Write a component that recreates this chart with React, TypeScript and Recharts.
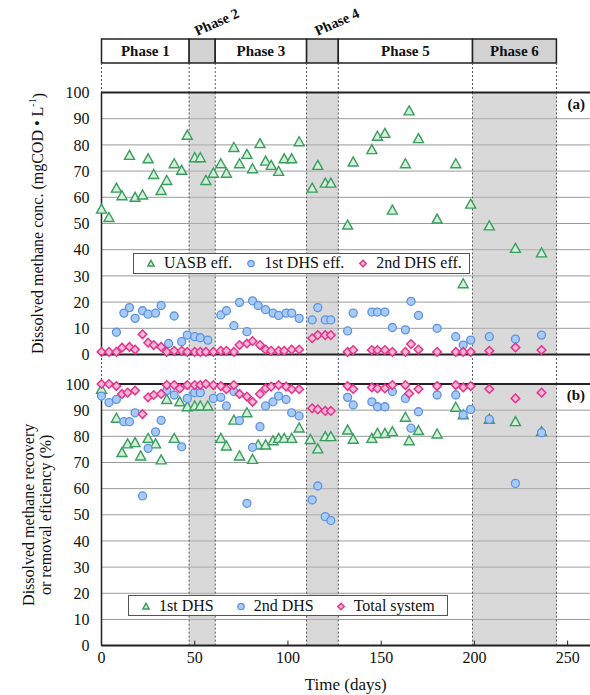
import React from "react";
import {
  ScatterChart, Scatter, XAxis, YAxis, CartesianGrid, ReferenceArea, ReferenceLine, Legend,
} from "recharts";

// phase boundaries (days) and names
const phaseBounds = [0, 47, 61, 110, 127, 199, 244];
const phaseNames = ["Phase 1", "Phase 2", "Phase 3", "Phase 4", "Phase 5", "Phase 6"];

// (a) dissolved methane concentration, [day, mgCOD/L]
const uasbEff: [number, number][] = [
  [0, 55.5], [4, 52.3], [8, 63.5], [11, 60.6], [15, 76], [18, 60], [22, 60.9], [25, 74.7], [28, 68.7],
  [32, 62.6], [35, 66.4], [39, 72.8], [43, 70.3], [46, 83.7], [50, 75.1], [53, 75.1], [56, 66.4],
  [60, 69.2], [64, 72.8], [67, 69.2], [71, 79], [74, 72.8], [78, 76.4], [81, 70.9], [85, 80.5],
  [88, 73.8], [91, 72.2], [95, 69.9], [98, 74.7], [102, 74.7], [106, 81.2], [113, 63.5], [116, 72.2],
  [120, 65.4], [123, 65.4], [132, 49.4], [135, 73.5], [145, 78.2], [148, 83.3], [152, 84.4], [156, 55.1],
  [163, 72.8], [165, 93], [170, 82.4], [180, 51.7], [190, 72.8], [194, 27], [198, 57.4], [208, 49.1],
  [222, 40.5], [236, 38.8],
];
const dhs1Eff: [number, number][] = [
  [8, 8.5], [12, 15.8], [15, 17.9], [18, 13.8], [22, 16.7], [25, 15.4], [29, 15.8], [32, 18.7], [36, 4.2],
  [39, 14.7], [43, 4.9], [46, 7.4], [50, 6.8], [53, 6.4], [57, 5.5], [64, 15.1], [67, 16.7], [71, 11],
  [74, 19.9], [78, 8.7], [81, 20.5], [84, 18.7], [88, 17.1], [92, 15.8], [95, 14.9], [99, 15.8],
  [102, 15.8], [106, 13.8], [113, 13.2], [116, 17.9], [120, 13.2], [123, 13.2], [132, 9], [135, 15.8],
  [145, 16.2], [148, 16.2], [152, 16.2], [156, 10.3], [163, 9.4], [166, 20.3], [170, 14.9], [180, 10],
  [190, 6.8], [194, 3.6], [198, 5.5], [208, 6.8], [222, 5.9], [236, 7.4],
];
const dhs2Eff: [number, number][] = [
  [0, 1], [4, 1], [8, 1], [11, 2.6], [15, 2.9], [18, 1.9], [22, 7.7], [25, 4.5], [28, 3.6], [32, 2.9],
  [35, 1], [39, 1.4], [43, 1.4], [46, 1], [50, 1], [53, 1], [56, 1], [60, 1], [64, 1.4], [67, 1.4],
  [71, 1], [74, 3.6], [78, 4.2], [81, 5.1], [85, 3.6], [88, 1.9], [91, 1.4], [95, 1.4], [98, 1.4],
  [102, 1.9], [106, 1.9], [113, 6.2], [116, 7.4], [120, 7.4], [123, 7.4], [132, 1], [135, 1.7],
  [145, 1.7], [148, 1.7], [152, 1.7], [156, 1], [163, 1], [166, 4], [170, 1.9], [180, 1], [190, 1],
  [194, 1], [198, 1], [208, 1.4], [222, 2.7], [236, 1.7],
];

// (b) recovery / removal efficiency, [day, %]
const dhs1Rec: [number, number][] = [
  [0, 98], [8, 86.9], [11, 73.8], [14, 77.1], [18, 77.6], [21, 72.5], [25, 79.2], [29, 77.1], [32, 71],
  [35, 94.1], [39, 79.2], [42, 93.2], [46, 91.3], [50, 91.6], [53, 91.6], [57, 91.6], [64, 79.2],
  [67, 76.3], [71, 86.2], [74, 72.5], [78, 89], [81, 71.2], [84, 76.7], [88, 76.7], [92, 78.3],
  [95, 79.2], [98, 79.2], [102, 79.2], [106, 83.2], [112, 78.8], [116, 75.2], [120, 79.9], [123, 79.9],
  [132, 82.4], [135, 78.9], [145, 79.2], [148, 81.1], [152, 81.1], [156, 81.8], [163, 87.3], [165, 78.3],
  [170, 82.2], [180, 80.9], [190, 91.1], [194, 88.2], [208, 86.5], [222, 85.6], [236, 81.8],
];
const dhs2Rec: [number, number][] = [
  [0, 95.4], [4, 92.9], [8, 94.1], [12, 85.6], [15, 85.6], [18, 89], [22, 57.2], [25, 75.4], [29, 81.7],
  [32, 86.1], [35, 97.5], [39, 95.8], [43, 76], [46, 94.5], [50, 96.7], [53, 96.7], [60, 94.5],
  [64, 94.9], [67, 91.6], [71, 97.1], [74, 86], [78, 54.4], [81, 75.8], [85, 83.7], [88, 91.6],
  [92, 93.2], [95, 95.4], [99, 94.1], [102, 89], [106, 87.8], [113, 55.7], [116, 61], [120, 49.3],
  [123, 47.8], [132, 94.9], [135, 92], [145, 93.2], [148, 91.3], [152, 91.3], [156, 97.1], [163, 94.5],
  [166, 83.1], [170, 89.4], [180, 95.8], [190, 95.8], [194, 88.2], [198, 90.3], [208, 86.5], [222, 62],
  [236, 81.4],
];
const totalRec: [number, number][] = [
  [0, 100], [4, 100], [8, 99.2], [11, 96.2], [14, 96.7], [18, 97.5], [22, 88.5], [25, 94.9], [28, 95.8],
  [32, 96.2], [35, 99.6], [39, 99.6], [42, 98.3], [46, 99.6], [50, 99.6], [53, 99.6], [56, 100],
  [60, 99.6], [64, 99.2], [67, 98], [71, 99.6], [74, 96.2], [78, 95.2], [81, 93.2], [85, 96.2],
  [88, 98.3], [91, 99], [95, 99.6], [99, 99], [102, 98], [106, 98], [113, 90.7], [116, 90.3],
  [120, 89.7], [123, 89.7], [132, 99.2], [135, 98.1], [145, 98.7], [148, 98.3], [152, 98.3], [156, 99.6],
  [163, 99.6], [165, 96.4], [170, 98.1], [180, 99.2], [190, 99.6], [194, 98.7], [198, 99.2], [208, 98.1],
  [222, 94.5], [236, 96.7],
];

const xTicks = [0, 50, 100, 150, 200, 250];
const yTicks = [0, 10, 20, 30, 40, 50, 60, 70, 80, 90, 100];

const X_MAX = 262;
const FONT = '"Liberation Serif", "Times New Roman", serif';
const GREEN = { stroke: "#3a9d5d", fill: "#d3efdb" };
const BLUE = { stroke: "#5b93e4", fill: "#a8caf4" };
const PINK = { stroke: "#e3358c", fill: "#f6b6d6" };
const SHADE = "#b9b9b9";

const toPts = (arr: [number, number][]) => arr.map(([day, v]) => ({ day, v }));
// anchor points so the header / gap charts have an x range to lay out against
const boundPts = phaseBounds.map((day) => ({ day, v: 0 }));

const Tri = ({ cx, cy, s = 5, c = GREEN }: any) =>
  cx == null ? null : (
    <path d={`M${cx},${cy - s} L${cx + s},${cy + s * 0.8} L${cx - s},${cy + s * 0.8} Z`}
      fill={c.fill} stroke={c.stroke} strokeWidth={1.4} />
  );
const Dot = ({ cx, cy, s = 4, c = BLUE }: any) =>
  cx == null ? null : <circle cx={cx} cy={cy} r={s} fill={c.fill} stroke={c.stroke} strokeWidth={1.3} />;
const Dia = ({ cx, cy, s = 4.3, c = PINK }: any) =>
  cx == null ? null : (
    <path d={`M${cx},${cy - s} L${cx + s},${cy} L${cx},${cy + s} L${cx - s},${cy} Z`}
      fill={c.fill} stroke={c.stroke} strokeWidth={1.5} />
  );
const Nothing = () => <g />;

function PhaseTag(props: any) {
  const { viewBox, tag, tilted } = props;
  if (!viewBox) return null;
  const { x, y, width, height } = viewBox;
  const cx = x + width / 2;
  if (tilted) {
    const tx = cx - 5;
    const ty = y - 3;
    return (
      <text x={tx} y={ty} transform={`rotate(-24 ${tx} ${ty})`} style={{ fontFamily: FONT }}
        fontWeight="bold" fontSize={14.5} fill="#111">{tag}</text>
    );
  }
  return (
    <text x={cx} y={y + height / 2 + 5} textAnchor="middle" style={{ fontFamily: FONT }} fontWeight="bold"
      fontSize={15} fill="#111">{tag}</text>
  );
}

function CornerTag(props: any) {
  const { viewBox, tag } = props;
  if (!viewBox) return null;
  return (
    <text x={viewBox.x + viewBox.width - 5} y={viewBox.y + 16} textAnchor="end" style={{ fontFamily: FONT }}
      fontWeight="bold" fontSize={15} fill="#111">{tag}</text>
  );
}

function YTitle(props: any) {
  const { viewBox, lines, sup } = props;
  if (!viewBox) return null;
  const cy = viewBox.y + viewBox.height / 2;
  const base = viewBox.x - 4 - ((lines.length - 1) * 17) / 2;
  return (
    <g>
      {lines.map((t: string, i: number) => {
        const x = base + i * 17;
        return (
          <text key={i} x={x} y={cy} transform={`rotate(-90 ${x} ${cy})`} textAnchor="middle"
            dominantBaseline="central" style={{ fontFamily: FONT }} fontSize={16} fill="#111">
            {t}
            {sup && i === lines.length - 1 ? (
              <>
                <tspan fontSize={10} dy={-6}>-1</tspan>
                <tspan dy={6}>)</tspan>
              </>
            ) : null}
          </text>
        );
      })}
    </g>
  );
}

function LegendBox({ items, gap }: { items: { name: string; Mark: any; c: any }[]; gap: number }) {
  return (
    <div style={{
      border: "1px solid #555", background: "#fff", height: 21, display: "flex", alignItems: "center",
      paddingLeft: 12, fontFamily: FONT, fontSize: 16, color: "#111", boxSizing: "border-box",
      whiteSpace: "nowrap",
    }}>
      {items.map(({ name, Mark, c }) => (
        <span key={name} style={{ display: "inline-flex", alignItems: "center", marginRight: gap }}>
          <svg width={10} height={10} style={{ marginRight: 8 }}>
            <Mark cx={5} cy={5.5} s={3.2} c={c} />
          </svg>
          {name}
        </span>
      ))}
    </div>
  );
}

const shadedPhases = phaseNames.map((_, i) => i).filter((i) => i % 2 === 1);
const tickStyle = { fontFamily: FONT, fontSize: 16, fill: "#111" };

export default function App() {
  const margin = { top: 0, right: 0, bottom: 0, left: 101.5 };
  const dashed = phaseBounds.map((b) => (
    <ReferenceLine key={`d${b}`} x={b} stroke="#555" strokeDasharray="2 2" strokeWidth={1} />
  ));
  const shading = shadedPhases.map((i) => (
    <ReferenceArea key={`s${i}`} x1={phaseBounds[i]} x2={phaseBounds[i + 1]} fill={SHADE}
      fillOpacity={0.55} stroke="none" />
  ));

  const yAxis = (label: React.ReactElement) => (
    <YAxis type="number" dataKey="v" domain={[0, 100]} ticks={yTicks} width={60} tickSize={0}
      tickMargin={12} interval={0} axisLine={{ stroke: "#222", strokeWidth: 1.5 }}
      tick={tickStyle} label={label} />
  );

  return (
    <div style={{ position: "absolute", left: 0, top: 0, width: 590, height: 695, background: "#fff" }}>
      {/* phase header */}
      <div style={{ position: "absolute", left: 0, top: 0 }}>
        <ScatterChart width={590} height={93} margin={{ ...margin, top: 39 }}>
          <XAxis type="number" dataKey="day" domain={[0, X_MAX]} hide />
          <YAxis type="number" dataKey="v" domain={[0, 54]} hide />
          <Scatter data={boundPts} shape={<Nothing />} isAnimationActive={false} legendType="none" />
          {phaseBounds.map((b) => (
            <ReferenceLine key={`h${b}`} segment={[{ x: b, y: 0 }, { x: b, y: 30 }]} stroke="#555"
              strokeDasharray="2 2" />
          ))}
          {phaseNames.map((name, i) => (
            <ReferenceArea key={name} x1={phaseBounds[i]} x2={phaseBounds[i + 1]} y1={30} y2={54}
              fill={i % 2 === 1 ? "#d2d2d2" : "#fff"} fillOpacity={1} stroke="#222" strokeWidth={1.5}
              label={<PhaseTag tag={name} tilted={i === 1 || i === 3} />} />
          ))}
        </ScatterChart>
      </div>

      {/* (a) dissolved methane concentration */}
      <div style={{ position: "absolute", left: 0, top: 80 }}>
        <ScatterChart width={590} height={290} margin={{ top: 12.5, right: 0, bottom: 15.5, left: 41.5 }}>
          <XAxis type="number" dataKey="day" domain={[0, X_MAX]} hide />
          {yAxis(<YTitle lines={["Dissolved methane conc. (mgCOD \u2022 L"]} sup />)}
          {shading}
          <CartesianGrid vertical={false} stroke="#9a9a9a" />
          {dashed}
          <ReferenceLine y={0} stroke="#222" strokeWidth={2} />
          <ReferenceLine y={100} stroke="#222" strokeWidth={2} label={<CornerTag tag="(a)" />} />
          <Legend verticalAlign="middle" align="center" layout="horizontal"
            wrapperStyle={{ left: 133, top: 172.5, width: 337 }}
            content={() => (
              <LegendBox gap={14} items={[
                { name: "UASB eff.", Mark: Tri, c: GREEN },
                { name: "1st DHS eff.", Mark: Dot, c: BLUE },
                { name: "2nd DHS eff.", Mark: Dia, c: PINK },
              ]} />
            )} />
          <Scatter name="UASB eff." data={toPts(uasbEff)} shape={<Tri />} isAnimationActive={false} />
          <Scatter name="1st DHS eff." data={toPts(dhs1Eff)} shape={<Dot />} isAnimationActive={false} />
          <Scatter name="2nd DHS eff." data={toPts(dhs2Eff)} shape={<Dia />} isAnimationActive={false} />
        </ScatterChart>
      </div>

      {/* dashed phase lines between the panels */}
      <div style={{ position: "absolute", left: 0, top: 354 }}>
        <ScatterChart width={590} height={30} margin={margin}>
          <XAxis type="number" dataKey="day" domain={[0, X_MAX]} hide />
          <YAxis type="number" dataKey="v" domain={[0, 1]} hide />
          <Scatter data={boundPts} shape={<Nothing />} isAnimationActive={false} legendType="none" />
          {dashed}
        </ScatterChart>
      </div>

      {/* (b) recovery / removal efficiency */}
      <div style={{ position: "absolute", left: 0, top: 370 }}>
        <ScatterChart width={590} height={325} margin={{ top: 14, right: 0, bottom: 0, left: 41.5 }}>
          <XAxis type="number" dataKey="day" domain={[0, X_MAX]} ticks={xTicks} interval={0} height={49.4}
            tickSize={-5} tickMargin={11} axisLine={{ stroke: "#222", strokeWidth: 2 }}
            tickLine={{ stroke: "#222" }} tick={tickStyle}
            label={{ value: "Time (days)", position: "insideBottom", offset: 5, fontSize: 17, fill: "#111",
              style: { fontFamily: FONT } }} />
          {yAxis(<YTitle lines={["Dissolved methane recovery", "or removal eficiency (%)"]} />)}
          {shading}
          <CartesianGrid vertical={false} stroke="#9a9a9a" />
          {dashed}
          <ReferenceLine y={100} stroke="#222" strokeWidth={2} label={<CornerTag tag="(b)" />} />
          <Legend verticalAlign="middle" align="center" layout="horizontal"
            wrapperStyle={{ left: 128, top: 225, width: 320 }}
            content={() => (
              <LegendBox gap={22} items={[
                { name: "1st DHS", Mark: Tri, c: GREEN },
                { name: "2nd DHS", Mark: Dot, c: BLUE },
                { name: "Total system", Mark: Dia, c: PINK },
              ]} />
            )} />
          <Scatter name="1st DHS" data={toPts(dhs1Rec)} shape={<Tri />} isAnimationActive={false} />
          <Scatter name="2nd DHS" data={toPts(dhs2Rec)} shape={<Dot />} isAnimationActive={false} />
          <Scatter name="Total system" data={toPts(totalRec)} shape={<Dia />} isAnimationActive={false} />
        </ScatterChart>
      </div>
    </div>
  );
}
